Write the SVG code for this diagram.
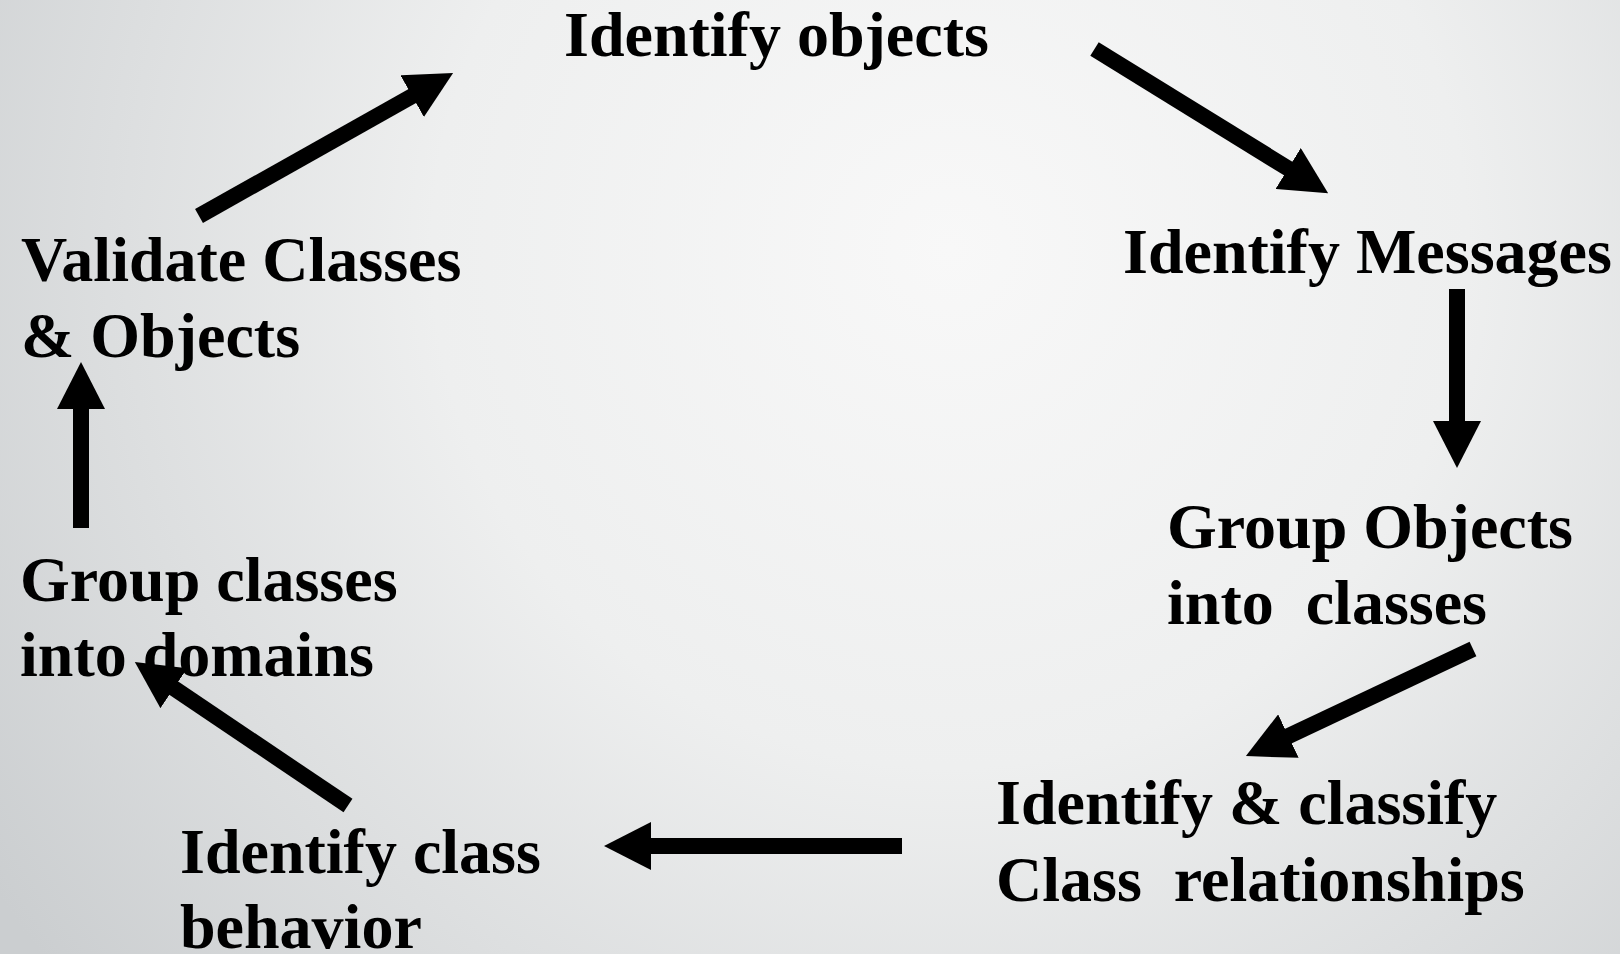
<svg xmlns="http://www.w3.org/2000/svg" width="1620" height="954" viewBox="0 0 1620 954">
  <style>
    .lbl { font-family: "Liberation Serif", "Times New Roman", serif; font-weight: bold; font-size: 64px; fill: #000; white-space: pre; }
    .arrow { stroke: #000; stroke-width: 16; stroke-linecap: butt; fill: none; marker-end: url(#head); }
  </style>
  <defs>
    <radialGradient id="bg" gradientUnits="userSpaceOnUse" cx="950" cy="250" r="1150">
      <stop offset="0" stop-color="#f8f8f8"/>
      <stop offset="0.45" stop-color="#eeefef"/>
      <stop offset="1" stop-color="#cbced0"/>
    </radialGradient>
    <marker id="head" markerUnits="userSpaceOnUse" markerWidth="48" markerHeight="48" viewBox="0 -24 48 48" refX="1" refY="0" orient="auto">
      <path d="M0,-24 L47,0 L0,24 Z" fill="#000"/>
    </marker>
  </defs>

  <rect width="1620" height="954" fill="url(#bg)"/>

  <!-- process steps -->
  <g id="identify-objects">
    <text class="lbl" x="564" y="56">Identify objects</text>
  </g>
  <g id="identify-messages">
    <text class="lbl" x="1123" y="273">Identify Messages</text>
  </g>
  <g id="group-objects">
    <text class="lbl" x="1167" y="548">Group Objects</text>
    <text class="lbl" x="1167" y="624">into  classes</text>
  </g>
  <g id="classify-relationships">
    <text class="lbl" x="996" y="824">Identify &amp; classify</text>
    <text class="lbl" x="996" y="901">Class  relationships</text>
  </g>
  <g id="class-behavior">
    <text class="lbl" x="180" y="873">Identify class</text>
    <text class="lbl" x="180" y="948">behavior</text>
  </g>
  <g id="group-classes">
    <text class="lbl" x="20" y="601">Group classes</text>
    <text class="lbl" x="20" y="676">into domains</text>
  </g>
  <g id="validate">
    <text class="lbl" x="21" y="281">Validate Classes</text>
    <text class="lbl" x="21" y="357">&amp; Objects</text>
  </g>

  <!-- cycle connectors -->
  <g id="connectors">
    <line class="arrow" x1="1094.5" y1="49" x2="1289" y2="169"/>
    <line class="arrow" x1="1457" y1="289" x2="1457" y2="422"/>
    <line class="arrow" x1="1473" y1="649" x2="1287.5" y2="736.5"/>
    <line class="arrow" x1="902" y1="846" x2="650" y2="846"/>
    <line class="arrow" x1="348" y1="805.5" x2="173" y2="687.7"/>
    <line class="arrow" x1="81" y1="528" x2="81" y2="408"/>
    <line class="arrow" x1="199" y1="216" x2="413" y2="95.6"/>
  </g>
</svg>
